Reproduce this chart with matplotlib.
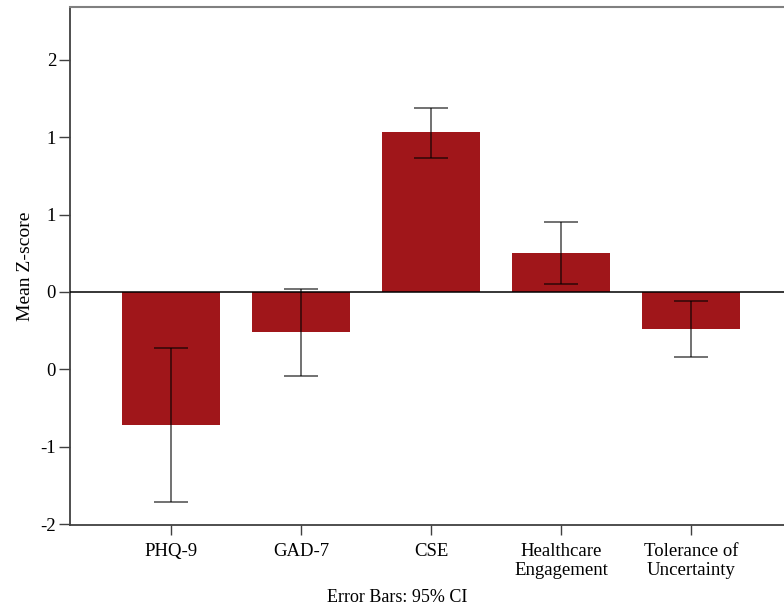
import numpy as np
import matplotlib.pyplot as plt

plt.rcParams['font.family'] = ['Liberation Serif', 'DejaVu Serif']

measures = ["PHQ-9", "GAD-7", "CSE", "Healthcare\nEngagement", "Tolerance of\nUncertainty"]
mean_z = [-0.862, -0.259, 1.032, 0.252, -0.239]
ci_low = [-1.356, -0.543, 0.868, 0.052, -0.420]
ci_high = [-0.362, 0.019, 1.191, 0.452, -0.058]

y_ticks = [-1.5, -1.0, -0.5, 0.0, 0.5, 1.0, 1.5]
y_tick_labels = ["-2", "-1", "0", "0", "1", "1", "2"]

fig = plt.figure(figsize=(7.84, 6.11), dpi=100)
ax = fig.add_axes([70 / 784, (611 - 525) / 611, 722 / 784, 518 / 611])

x = np.arange(len(measures))
mean_arr = np.array(mean_z)
err = [mean_arr - np.array(ci_low), np.array(ci_high) - mean_arr]

ax.bar(x, mean_z, width=0.76, color="#A0161A", zorder=2)
ax.errorbar(x, mean_z, yerr=err, fmt="none", ecolor="black", alpha=0.6,
            elinewidth=1.3, capsize=12, capthick=1.3, zorder=3)
ax.axhline(0, color="black", linewidth=1.1, zorder=4)

ax.set_xlim(-0.777, 4.777)
ax.set_ylim(-1.505, 1.84)
ax.set_xticks(x)
ax.set_xticklabels(measures, fontsize=13.5, linespacing=1.15)
ax.set_yticks(y_ticks)
ax.set_yticklabels(y_tick_labels, fontsize=13.5)
ax.tick_params(axis="x", length=7, width=1, color="#404040", pad=6)
ax.tick_params(axis="y", length=8, width=1, color="#404040", pad=2)
ax.set_ylabel("Mean Z-score", fontsize=14, labelpad=5)

for side in ["left", "bottom"]:
    ax.spines[side].set_color("#404040")
    ax.spines[side].set_linewidth(1.3)
ax.spines["top"].set_color("#808080")
ax.spines["top"].set_linewidth(1.5)
ax.spines["right"].set_visible(False)

fig.text(0.506, 1 - 598 / 611, "Error Bars: 95% CI", ha="center", va="center", fontsize=13)

fig.savefig("out.png", dpi=100)
